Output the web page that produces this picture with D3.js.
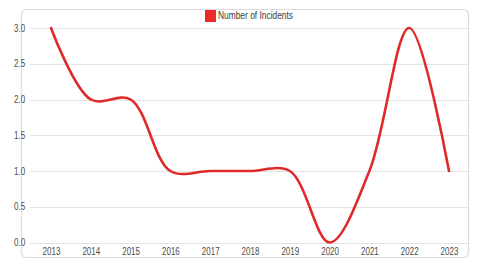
<!DOCTYPE html>
<html>
<head>
<meta charset="utf-8">
<script src="https://cdn.jsdelivr.net/npm/d3@7"></script>
<style>
  body { margin: 0; background: #fff; }
  text { font-family: "Liberation Sans", Arial, sans-serif; }
</style>
</head>
<body>
<div id="chart"></div>
<script>
const years = ["2013","2014","2015","2016","2017","2018","2019","2020","2021","2022","2023"];
const incidents = [3, 2, 2, 1, 1, 1, 1, 0, 1, 3, 1];
const yTicks = [0, 0.5, 1, 1.5, 2, 2.5, 3];
const seriesName = "Number of Incidents";

const W = 480, H = 271;
const margin = {top: 28, right: 11, bottom: 29, left: 30},
    width = W - margin.left - margin.right,
    height = H - margin.top - margin.bottom;

// the reference uses a narrow face, squeeze the regular one
const squeeze = "scale(0.8,1)";

const svg = d3.select("#chart")
  .append("svg")
    .attr("width", W)
    .attr("height", H);

// frame
svg.append("rect")
  .attr("x", 21.5).attr("y", 9.5)
  .attr("width", 447).attr("height", 248)
  .attr("rx", 5)
  .attr("fill", "none")
  .attr("stroke", "#dcdcdc")
  .attr("stroke-width", 1.2);

const g = svg.append("g")
  .attr("transform", `translate(${margin.left}, ${margin.top})`);

const x = d3.scalePoint()
  .domain(years)
  .range([21, 419]);

const y = d3.scaleLinear()
  .domain([0, 3])
  .range([height + 0.5, 0]);

// grid
g.append("g")
  .selectAll("line")
  .data(yTicks)
  .join("line")
    .attr("x1", 0).attr("x2", width - 1)
    .attr("y1", d => Math.round(y(d)) + 0.5)
    .attr("y2", d => Math.round(y(d)) + 0.5)
    .attr("stroke", "#e4e4e4")
    .attr("stroke-width", 1);

const yAxis = g.append("g")
  .call(d3.axisLeft(y).tickValues(yTicks).tickFormat(d3.format(".1f")).tickSize(0).tickPadding(6));
yAxis.select(".domain").remove();
yAxis.selectAll("text").attr("font-size", 10).attr("fill", "#4a4a4a")
  .attr("transform", squeeze);

const xAxis = g.append("g")
  .attr("transform", `translate(0, ${height})`)
  .call(d3.axisBottom(x).tickSize(0).tickPadding(6));
xAxis.select(".domain").remove();
xAxis.selectAll("text").attr("font-size", 10).attr("fill", "#4a4a4a")
  .attr("transform", squeeze);

// line
g.append("path")
  .datum(incidents)
  .attr("fill", "none")
  .attr("stroke", "#e02a2a")
  .attr("stroke-width", 2.6)
  .attr("stroke-linecap", "round")
  .attr("d", d3.line()
    .x((d, i) => x(years[i]))
    .y(d => y(d))
    .curve(d3.curveCatmullRom.alpha(0.5)));

// legend
const legend = svg.append("g").attr("transform", "translate(205, 10)");
legend.append("rect")
  .attr("width", 11).attr("height", 12)
  .attr("fill", "#ee2b2b");
legend.append("text")
  .attr("x", 13 / 0.84).attr("y", 6)
  .attr("dy", "0.35em")
  .attr("font-size", 10)
  .attr("fill", "#3a3a3a")
  .attr("transform", "scale(0.84,1)")
  .text(seriesName);
</script>
</body>
</html>
